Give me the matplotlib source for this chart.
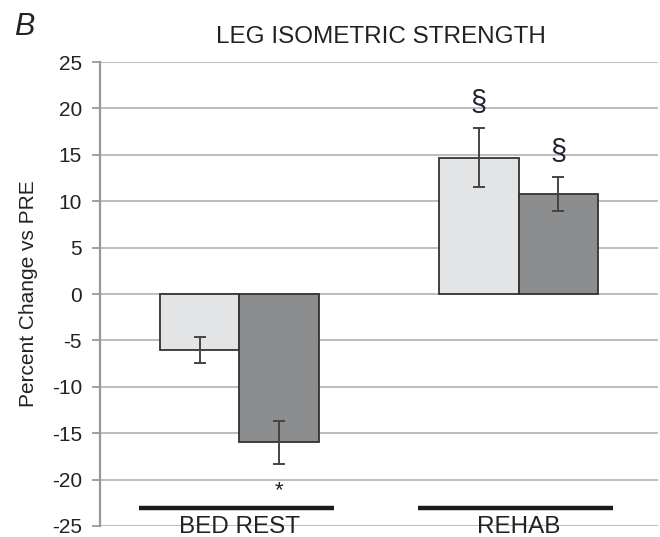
import numpy as np
import matplotlib.pyplot as plt

plt.rcParams['font.family'] = ['Liberation Sans', 'DejaVu Sans']
plt.rcParams['axes.unicode_minus'] = False

phases = ['BED REST', 'REHAB']
light_vals = [-6.0, 14.7]
light_err = [1.4, 3.2]
dark_vals = [-16.0, 10.8]
dark_err = [2.3, 1.85]

x = np.arange(len(phases))
w = 0.286

fig = plt.figure(figsize=(6.6, 5.37), dpi=100)
ax = fig.add_axes([0.1515, 0.0205, 0.8455, 0.864])

ax.bar(x - w / 2, light_vals, w, color='#e3e4e5', edgecolor='#333333', linewidth=1.3, zorder=3)
ax.bar(x + w / 2, dark_vals, w, color='#8c8d8f', edgecolor='#333333', linewidth=1.3, zorder=3)
ax.errorbar(x - w / 2, light_vals, yerr=light_err, fmt='none', ecolor='#444444',
            elinewidth=1.4, capsize=4, capthick=1.4, zorder=4)
ax.errorbar(x + w / 2, dark_vals, yerr=dark_err, fmt='none', ecolor='#444444',
            elinewidth=1.4, capsize=4, capthick=1.4, zorder=4)

# significance marks
ax.text(x[0] + w / 2, -21.2, '*', ha='center', va='center', fontsize=16, color='#222222')
ax.text(x[1] - w / 2, light_vals[1] + light_err[1] + 2.7, '§', ha='center', va='center',
        fontsize=21, color='#222233')
ax.text(x[1] + w / 2, dark_vals[1] + dark_err[1] + 2.7, '§', ha='center', va='center',
        fontsize=21, color='#222233')

# phase bars and labels under the plot
for xi, name in zip(x, phases):
    ax.plot([xi - 0.36, xi + 0.34], [-23.1, -23.1], color='#1a1a1a', lw=3.2,
            solid_capstyle='butt', clip_on=False, zorder=5)
    ax.text(xi, -25.75, name, ha='center', va='baseline', fontsize=17.5, color='#222222',
            clip_on=False, zorder=6)

ax.set_xlim(-0.5, 1.5)
ax.set_ylim(-25, 25)
ax.set_yticks(np.arange(-25, 26, 5))
ax.set_xticks([])
ax.yaxis.grid(True, color='#b8b8b8', linewidth=1.3)
ax.set_axisbelow(True)
for s in ['top', 'right', 'bottom']:
    ax.spines[s].set_visible(False)
ax.spines['left'].set_color('#999999')
ax.spines['left'].set_linewidth(1.6)
ax.tick_params(axis='y', length=6, width=1.3, color='#999999', labelsize=15,
               labelcolor='#222222', pad=7)
ax.set_ylabel('Percent Change vs PRE', fontsize=15, color='#222222')
ax.yaxis.set_label_coords(-0.111, 0.5)

fig.text(0.577, 0.932, 'LEG ISOMETRIC STRENGTH', ha='center', va='center', fontsize=17.5,
         color='#222222')
fig.text(0.022, 0.95, 'B', ha='left', va='center', fontsize=22, style='italic',
         color='#222222')

fig.savefig('out.png', dpi=100)
